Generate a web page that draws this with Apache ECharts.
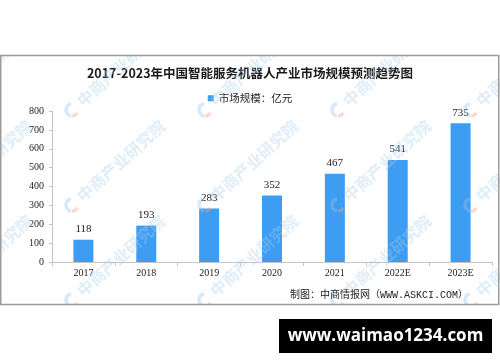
<!DOCTYPE html>
<html><head><meta charset="utf-8">
<script src="https://cdn.jsdelivr.net/npm/echarts@6/dist/echarts.min.js"></script>
<style>html,body{margin:0;padding:0;background:#fff}#c{width:500px;height:362px}</style>
</head><body><div id="c"></div>
<script>
const categories = ['2017', '2018', '2019', '2020', '2021', '2022E', '2023E'];
const marketSize = [118, 193, 283, 352, 467, 541, 735];
const yMin = 0, yMax = 800, yStep = 100;
const titleText = '2017-2023年中国智能服务机器人产业市场规模预测趋势图';
const seriesName = '市场规模：亿元';
const sourceText = '制图：中商情报网（WWW.ASKCI.COM）';
const siteText = 'www.waimao1234.com';
const watermarkText = '中商产业研究院';

const chart = echarts.init(document.getElementById('c'), null, {renderer: 'canvas'});

// watermark decoration
const wm = [];
const ang = 42 * Math.PI / 180;
const wmXs = [-61, 72, 205, 338, 471];
const wmYs = [15, 110, 205, 300];
wmXs.forEach(x => wmYs.forEach(y => {
  wm.push({type: 'arc', z: 100, silent: true,
    shape: {cx: x, cy: y, r: 6, startAngle: Math.PI * 0.55, endAngle: Math.PI * 1.45},
    style: {stroke: 'rgba(150,195,235,0.38)', lineWidth: 3.5, fill: null}});
  wm.push({type: 'arc', z: 100, silent: true,
    shape: {cx: x, cy: y, r: 6, startAngle: Math.PI * 0.15, endAngle: Math.PI * 0.5},
    style: {stroke: 'rgba(245,160,130,0.38)', lineWidth: 3.5, fill: null}});
  wm.push({type: 'text', z: 100, silent: true,
    x: x + 10 * Math.cos(ang), y: y - 10 * Math.sin(ang), rotation: ang,
    style: {text: watermarkText, fill: 'rgba(165,205,238,0.36)',
      font: 'bold 16px "Noto Sans CJK SC"', textAlign: 'left', textVerticalAlign: 'middle'}});
}));

const option = {
  animation: false,
  backgroundColor: '#fff',
  title: {
    text: titleText, left: 'center', top: 62,
    textStyle: {fontSize: 12.5, fontWeight: 'bold', color: '#1a1a1a', fontFamily: '"Noto Sans CJK SC"'}
  },
  legend: {
    top: 88, left: 'center', icon: 'rect', itemWidth: 6, itemHeight: 6, itemGap: 4,
    textStyle: {fontSize: 10.5, color: '#222', fontFamily: '"Noto Sans CJK SC"'},
    data: [seriesName]
  },
  grid: {left: 52, right: 8, top: 111, bottom: 100, containLabel: false},
  xAxis: {
    type: 'category', data: categories,
    axisLine: {lineStyle: {color: '#c4c4c4', width: 1}},
    axisTick: {show: true, length: 4, lineStyle: {color: '#c4c4c4'}},
    axisLabel: {fontSize: 10, color: '#222', fontFamily: '"Liberation Serif"', margin: 6}
  },
  yAxis: {
    type: 'value', min: yMin, max: yMax, interval: yStep,
    axisLine: {show: true, lineStyle: {color: '#c4c4c4', width: 1}},
    axisTick: {show: true, length: 3, lineStyle: {color: '#c4c4c4'}},
    splitLine: {show: false},
    axisLabel: {fontSize: 10, color: '#222', fontFamily: '"Liberation Serif"', margin: 8}
  },
  series: [{
    name: seriesName, type: 'bar', data: marketSize, barWidth: 20,
    itemStyle: {color: '#3d9df2'},
    label: {show: true, position: 'top', distance: 5, fontSize: 11, color: '#222', fontFamily: '"Liberation Serif"'}
  }],
  graphic: wm.concat([
    {type: 'text', z: 105, x: 468, y: 295, silent: true,
      style: {text: sourceText, fill: '#222', font: '10px "Liberation Mono", "Noto Sans CJK SC"', textAlign: 'right', textVerticalAlign: 'middle'}},
    {type: 'rect', z: 110, silent: true, shape: {x: 0, y: 0, width: 500, height: 55}, style: {fill: '#fff'}},
    {type: 'rect', z: 110, silent: true, shape: {x: 0, y: 305, width: 500, height: 57}, style: {fill: '#fff'}},
    {type: 'rect', z: 120, silent: true, shape: {x: 0.75, y: 55.5, width: 498, height: 249}, style: {fill: null, stroke: '#9c9c9c', lineWidth: 1.5}},
    {type: 'rect', z: 130, silent: true, shape: {x: 279, y: 319, width: 213, height: 34}, style: {fill: '#000'}},
    {type: 'text', z: 131, x: 385.5, y: 336.5, silent: true,
      style: {text: siteText, fill: '#fff', font: 'bold 17px "Open Sans"', textAlign: 'center', textVerticalAlign: 'middle'}}
  ])
};
chart.setOption(option);
</script></body></html>
